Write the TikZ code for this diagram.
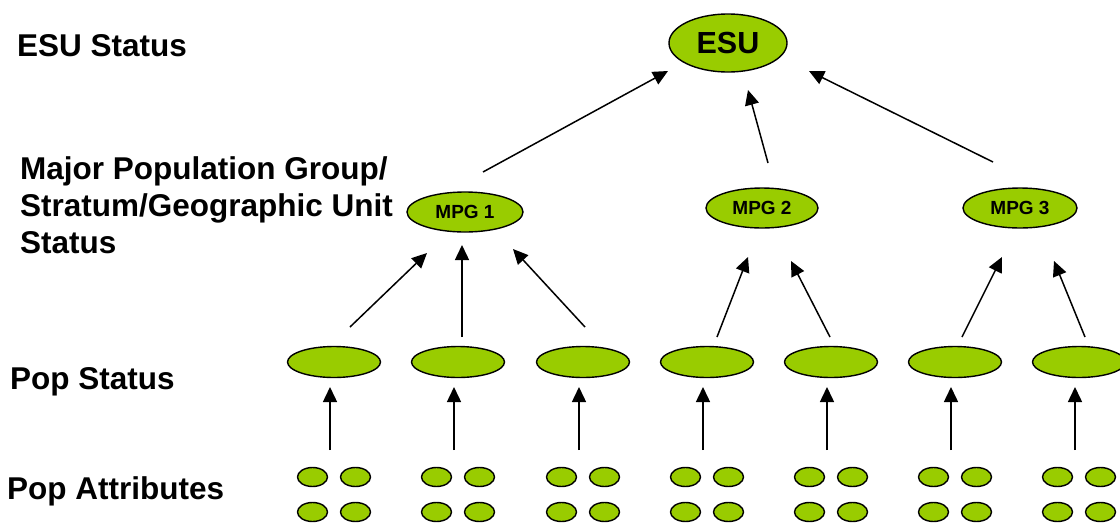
\documentclass[tikz,border=0pt]{standalone}
\usepackage{fontspec}
\setmainfont{Liberation Sans}
\usetikzlibrary{arrows.meta,shapes.geometric}
\definecolor{lime}{HTML}{99CC00}
\begin{document}
\begin{tikzpicture}[x=1pt,y=-1pt,
  ell/.style={ellipse,draw=black,line width=1.4pt,fill=lime,inner sep=0pt,font=\bfseries},
  mpg/.style={ell,minimum height=40pt,font=\bfseries\fontsize{19}{20}\selectfont},
  lab/.style={anchor=west,font=\bfseries\fontsize{31.5}{37}\selectfont,align=left,inner sep=0pt},
  arr/.style={line width=1.5pt,-{Triangle[length=15pt,width=14pt]}}]
\useasboundingbox (0,0) rectangle (1120,523);
% labels
\node[lab] (l1) at (17,46) {ESU Status};
\node[lab] (l2) at (20,205) {Major Population Group/\\Stratum/Geographic Unit\\Status};
\node[lab] (l3) at (10,382) {Pop Status};
\node[lab] (l4) at (7,491) {Pop Attributes};
% top
\node[ell,minimum width=118pt,minimum height=58pt,font=\bfseries\fontsize{30.5}{32}\selectfont] (esu) at (728,43) {ESU};
\node[mpg,minimum width=116pt] (m1) at (465,212) {MPG 1};
\node[mpg,minimum width=112pt] (m2) at (762,208) {MPG 2};
\node[mpg,minimum width=114pt] (m3) at (1020,208) {MPG 3};
% pop ellipses and attributes
\foreach \cx [count=\i] in {334,458,583,707,831,955,1079}{
  \node[ell,minimum width=93pt,minimum height=31pt] (p\i) at (\cx,362) {};
  \node[ell,minimum width=30pt,minimum height=19pt] (a\i a) at (\cx-21.5,477) {};
  \node[ell,minimum width=30pt,minimum height=19pt] (a\i b) at (\cx+21.5,477) {};
  \node[ell,minimum width=30pt,minimum height=19pt] (a\i c) at (\cx-21.5,512) {};
  \node[ell,minimum width=30pt,minimum height=19pt] (a\i d) at (\cx+21.5,512) {};
  \coordinate (s\i) at (\cx-4,450);
  \coordinate (t\i) at (\cx-4,387);
  \draw[arr] (s\i) -- (t\i);
}
% pop -> mpg arrows
\coordinate (q1) at (350,327); \coordinate (r1) at (427,253);
\coordinate (q2) at (462,337); \coordinate (r2) at (462,245);
\coordinate (q3) at (585,327); \coordinate (r3) at (513,249);
\coordinate (q4) at (717,337); \coordinate (r4) at (748,257);
\coordinate (q5) at (830,337); \coordinate (r5) at (791,261);
\coordinate (q6) at (962,337); \coordinate (r6) at (1002,257);
\coordinate (q7) at (1085,337); \coordinate (r7) at (1054,261);
\foreach \k in {1,...,7}{\draw[arr] (q\k) -- (r\k);}
% mpg -> esu arrows
\coordinate (u1) at (483,172); \coordinate (v1) at (668,71);
\coordinate (u2) at (768,163); \coordinate (v2) at (748,90);
\coordinate (u3) at (993,162); \coordinate (v3) at (809,71);
\foreach \k in {1,2,3}{\draw[arr] (u\k) -- (v\k);}
\end{tikzpicture}
\end{document}
